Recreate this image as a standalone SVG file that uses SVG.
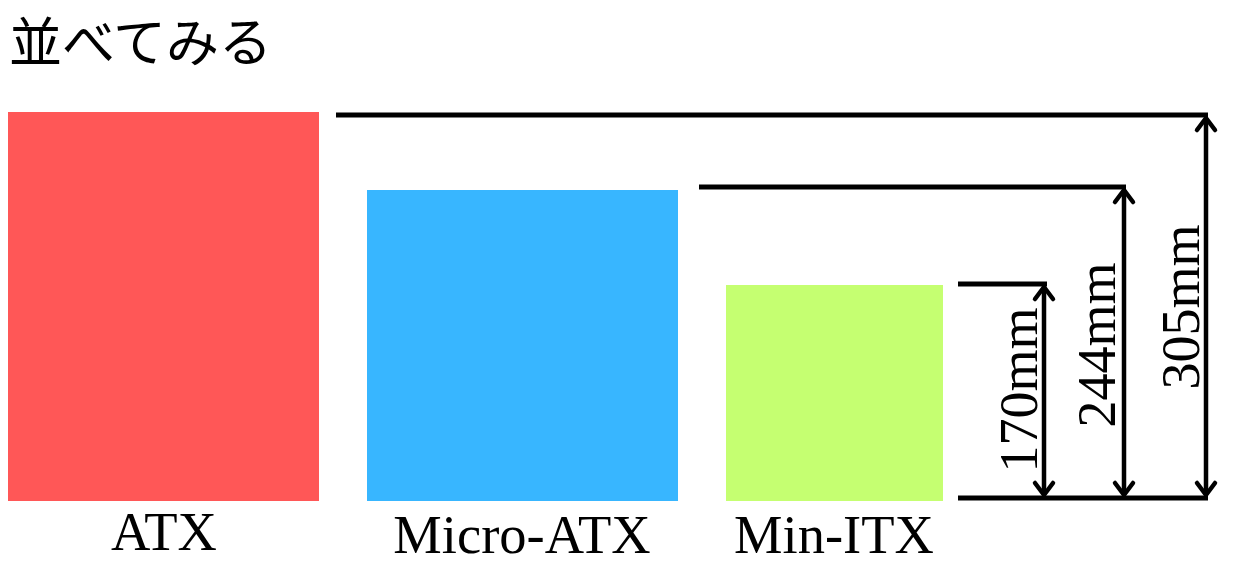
<svg xmlns="http://www.w3.org/2000/svg" width="1244" height="575" viewBox="0 0 1244 575">
<style>
.lbl{font-family:"Liberation Serif","Times New Roman",serif;font-size:54.5px;fill:#000;text-anchor:middle}
.dim{font-family:"Liberation Serif","Times New Roman",serif;font-size:54px;fill:#000;text-anchor:middle}
.ln{stroke:#000;stroke-width:5;fill:none}
.arr{stroke:#000;stroke-width:4.5;fill:none;marker-start:url(#ah);marker-end:url(#ah)}
</style>
<defs>
<marker id="ah" markerUnits="userSpaceOnUse" viewBox="-16 -14 20 28" markerWidth="20" markerHeight="28" refX="0" refY="0" orient="auto-start-reverse" overflow="visible">
<path d="M-12,-9 L0,0 L-12,9" fill="none" stroke="#000" stroke-width="4.5" stroke-linejoin="round" stroke-linecap="round"/>
</marker>
</defs>
<rect width="1244" height="575" fill="#fff"/>
<text x="9" y="62" font-family="Noto Sans CJK JP, sans-serif" font-size="53" fill="#000">並べてみる</text>
<g id="atx">
<rect x="8" y="112" width="311" height="389" fill="#FF5757"/>
<text class="lbl" x="164" y="550">ATX</text>
</g>
<g id="micro-atx">
<rect x="367" y="190" width="311" height="311" fill="#38B6FF"/>
<text class="lbl" x="522" y="553">Micro-ATX</text>
</g>
<g id="mini-itx">
<rect x="726" y="285" width="217" height="216" fill="#C5FF71"/>
<text class="lbl" x="834" y="553">Min-ITX</text>
</g>
<g id="connectors">
<line class="ln" x1="336" y1="115" x2="1208" y2="115"/>
<line class="ln" x1="699" y1="187" x2="1126" y2="187"/>
<line class="ln" x1="958" y1="284" x2="1047" y2="284"/>
<line class="ln" x1="958" y1="498" x2="1208" y2="498"/>
<line class="arr" x1="1044" y1="287" x2="1044" y2="495"/>
<line class="arr" x1="1124" y1="190" x2="1124" y2="495"/>
<line class="arr" x1="1206" y1="118" x2="1206" y2="495"/>
</g>
<g id="dims">
<text class="dim" transform="translate(1037,390) rotate(-90)">170mm</text>
<text class="dim" transform="translate(1115,345) rotate(-90)">244mm</text>
<text class="dim" transform="translate(1199,307) rotate(-90)">305mm</text>
</g>
</svg>
